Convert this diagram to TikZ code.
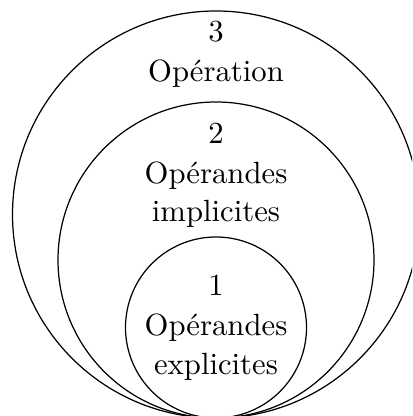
\documentclass[tikz,border=0pt]{standalone}
\begin{document}
\begin{tikzpicture}[x=0.3257pt,y=-0.3257pt,
  ring/.style={draw=black,line width=0.4pt},
  lbl/.style={anchor=base,inner sep=0pt,font=\fontsize{10}{12}\selectfont}]
\useasboundingbox (0,0) rectangle (412,416);
\clip (0,0) rectangle (412,416);
\draw[ring] (216,214.5) circle (203.5);
\draw[ring] (216,260) circle (158);
\draw[ring] (216,327.5) circle (90.5);
\node[lbl] (n3) at (216,42) {3};
\node[lbl] (t3) at (216,82) {Opération};
\node[lbl] (n2) at (216,144) {2};
\node[lbl] (t2a) at (216,184) {Opérandes};
\node[lbl] (t2b) at (216,222) {implicites};
\node[lbl] (n1) at (216,296) {1};
\node[lbl] (t1a) at (216,336) {Opérandes};
\node[lbl] (t1b) at (216,374) {explicites};
\end{tikzpicture}
\end{document}
